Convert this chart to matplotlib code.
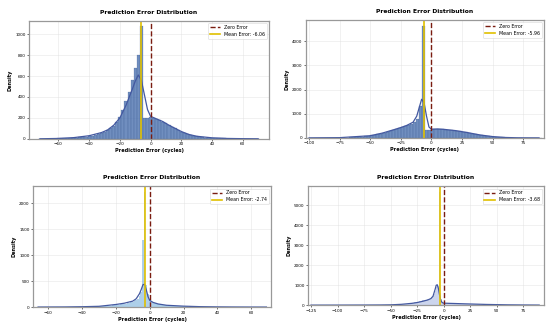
import numpy as np
import matplotlib
matplotlib.use("Agg")
import matplotlib.pyplot as plt

# ---- panel 1 : histogram (bin width 2, centers -72..70) ----
p1_start, p1_width = -72, 2
p1_counts = [1, 1, 2, 2, 3, 3, 4, 5, 6, 8,
             9, 11, 13, 15, 18, 22, 26, 31, 37, 45,
             55, 65, 80, 100, 125, 160, 210, 280, 360, 450,
             560, 680, 800, 1073, 195, 200,
             210, 200, 190, 180, 165, 150, 135, 118, 100, 85,
             70, 58, 47, 38, 30, 24, 19, 15, 12, 10,
             9, 7, 6, 5, 4, 3, 3, 2, 2, 1,
             1, 1, 1, 1, 0, 0]
p1_kde_x = [-72, -60, -50, -40, -32, -28, -24, -20, -16, -12, -10, -8, -6, -4, -2,
            0, 4, 8, 12, 16, 20, 25, 30, 40, 50, 60, 70]
p1_kde_y = [1, 4, 12, 30, 60, 85, 130, 200, 320, 470, 550, 610, 560, 420, 280,
            215, 190, 165, 130, 100, 70, 42, 25, 10, 4, 2, 1]
p1_mean = -6.06

# ---- panel 2 : histogram (bin width 2.5, centers -101.25..88.75) ----
p2_start, p2_width = -101.25, 2.5
p2_counts = [1, 1, 1, 1, 2, 2, 2, 3, 3, 4,
             6, 8, 10, 13, 17, 22, 30, 40, 52, 65,
             80, 100, 125, 150, 180, 215, 250, 290, 330, 370,
             410, 450, 490, 530, 580, 650, 800, 1300,
             4650,
             320, 340, 355, 360, 360, 355, 345, 330, 315, 300,
             285, 270, 250, 228, 205, 180, 155, 130, 108, 88,
             70, 55, 42, 32, 24, 18, 13, 10, 7, 5,
             4, 3, 2, 2, 1, 1, 1, 0]
p2_kde_x = [-100, -75, -50, -40, -30, -25, -20, -15, -12, -10, -8, -6, -4, -2,
            0, 5, 10, 20, 30, 40, 50, 60, 70, 80, 88]
p2_kde_y = [2, 10, 90, 200, 350, 430, 520, 650, 900, 1250, 1600, 1450, 900, 450,
            360, 370, 355, 300, 215, 120, 55, 18, 5, 2, 1]
p2_mean = -5.96

# ---- panel 3 : histogram (bin width 1, centers -66..69) ----
p3_start, p3_width = -66, 1
p3_counts = [1, 1, 1, 1, 1, 1, 1, 1, 1, 1, 2, 2, 2, 2, 2, 2, 3, 3, 3, 3, 4, 4, 4, 5, 5, 5,
             6, 6, 7, 7, 8, 9, 10, 11, 12, 13, 14, 16, 18, 20, 22, 24, 26, 29, 32, 35,
             38, 42, 46, 50, 55, 60, 66, 73, 80, 90,
             100, 115, 135, 165, 210, 290,
             1300, 2216, 420, 250,
             160, 120, 95, 80, 68, 58, 50, 44, 38, 34,
             31, 28, 26, 24, 22, 20, 18, 17, 16, 15, 14, 13, 12, 11, 10, 9, 9, 8, 8, 7,
             7, 6, 6, 6, 5, 5, 5, 4, 4, 4, 3, 3, 3, 3, 2, 2, 2, 2, 2, 2,
             2, 2, 1, 1, 1, 1, 1, 1, 1, 1, 1, 1, 1, 1, 1, 1, 1, 0, 0, 0]
p3_kde_x = [-66, -50, -40, -30, -20, -15, -10, -8, -6, -5, -4, -3, -2, -1,
            0, 2, 5, 10, 20, 30, 40, 50, 60, 69]
p3_kde_y = [1, 3, 7, 15, 50, 75, 115, 160, 260, 340, 430, 440, 330, 200,
            130, 90, 60, 35, 18, 8, 4, 2, 1, 0.5]
p3_mean = -2.74

# ---- panel 4 : histogram (bin width 1, centers -60..60) ----
p4_start, p4_width = -60, 1
p4_counts = [5, 5, 6, 6, 7, 8, 9, 10, 11, 12, 13, 14, 16, 18, 20, 22, 25, 28, 31, 35,
             39, 43, 48, 53, 58, 64, 70, 77, 85, 93, 102, 112, 122, 133, 145, 158, 172, 188, 205, 220,
             235, 245, 255, 265, 275, 290, 310, 330, 360, 400,
             460, 560, 720, 900, 1000, 950,
             5684, 600, 300, 180,
             130, 110, 100, 95, 92, 90, 88, 86, 84, 82, 80, 78, 76, 74, 72, 70, 68, 66, 64, 62,
             60, 58, 56, 54, 52, 50, 48, 46, 44, 42, 40, 38, 36, 34, 32, 30, 29, 28, 27, 26,
             25, 24, 23, 22, 21, 20, 19, 18, 17, 16, 15, 14, 13, 12, 11, 10, 9, 9, 8, 8, 7]
p4_kde_x = [-125, -100, -75, -60, -50, -40, -30, -25, -20, -15, -12, -10, -8, -7, -6,
            -5, -4, -3, -2, -1, 0, 5, 10, 20, 30, 40, 50, 60, 75, 90]
p4_kde_y = [1, 2, 5, 8, 15, 40, 90, 130, 190, 260, 330, 450, 800, 1000, 1020,
            850, 550, 300, 170, 120, 100, 90, 82, 65, 50, 35, 25, 15, 8, 3]
p4_mean = -3.68

panels = [
    dict(start=p1_start, width=p1_width, counts=p1_counts, kx=p1_kde_x, ky=p1_kde_y,
         mean=p1_mean, xlim=(-79, 77), xticks=range(-60, 61, 20),
         color="#4c72b0", alpha=0.8, edge=0.15, rect=[0.053, 0.574, 0.436, 0.362]),
    dict(start=p2_start, width=p2_width, counts=p2_counts, kx=p2_kde_x, ky=p2_kde_y,
         mean=p2_mean, xlim=(-102.7, 92), xticks=range(-100, 76, 25),
         color="#4c72b0", alpha=0.8, edge=0.15, rect=[0.556, 0.577, 0.433, 0.362]),
    dict(start=p3_start, width=p3_width, counts=p3_counts, kx=p3_kde_x, ky=p3_kde_y,
         mean=p3_mean, xlim=(-69, 71.8), xticks=range(-60, 61, 20),
         color="#6aa8d8", alpha=0.55, edge=0, rect=[0.060, 0.058, 0.433, 0.371]),
    dict(start=p4_start, width=p4_width, counts=p4_counts, kx=p4_kde_x, ky=p4_kde_y,
         mean=p4_mean, xlim=(-127.8, 94.5), xticks=range(-125, 76, 25),
         color="#8fa3d8", alpha=0.45, edge=0, rect=[0.560, 0.064, 0.429, 0.365]),
]

fig = plt.figure(figsize=(5.5, 3.26), dpi=100)

for p in panels:
    ax = fig.add_axes(p["rect"])
    centers = p["start"] + p["width"] * np.arange(len(p["counts"]))
    ax.bar(centers, p["counts"], width=p["width"], color=p["color"], alpha=p["alpha"],
           edgecolor="#2f4d80", linewidth=p["edge"])
    ax.plot(p["kx"], p["ky"], color="#4358a0", linewidth=0.9)
    ax.axvline(0, color="#7a1c10", linestyle="--", linewidth=1.0, label="Zero Error")
    ax.axvline(p["mean"], color="#e0c000", linestyle="-", linewidth=1.2,
               label=f"Mean Error: {p['mean']:.2f}")
    ax.set_xlim(*p["xlim"])
    ax.set_xticks(list(p["xticks"]))
    ax.set_title("Prediction Error Distribution", fontsize=4.3, fontweight="bold", pad=5)
    ax.set_xlabel("Prediction Error (cycles)", fontsize=3.6, fontweight="bold", labelpad=1.5)
    ax.set_ylabel("Density", fontsize=3.6, fontweight="bold", labelpad=2)
    ax.tick_params(labelsize=3, length=1.5, width=0.4, pad=1)
    ax.grid(True, color="#dddddd", linewidth=0.4, alpha=0.7)
    ax.set_axisbelow(True)
    for s in ax.spines.values():
        s.set_color("#999999")
        s.set_linewidth(0.9)
    leg = ax.legend(loc="upper right", fontsize=3.4, frameon=True, handlelength=2.2,
                    borderpad=0.4, labelspacing=0.4)
    leg.get_frame().set_linewidth(0.4)

fig.savefig("out.png", dpi=100)
